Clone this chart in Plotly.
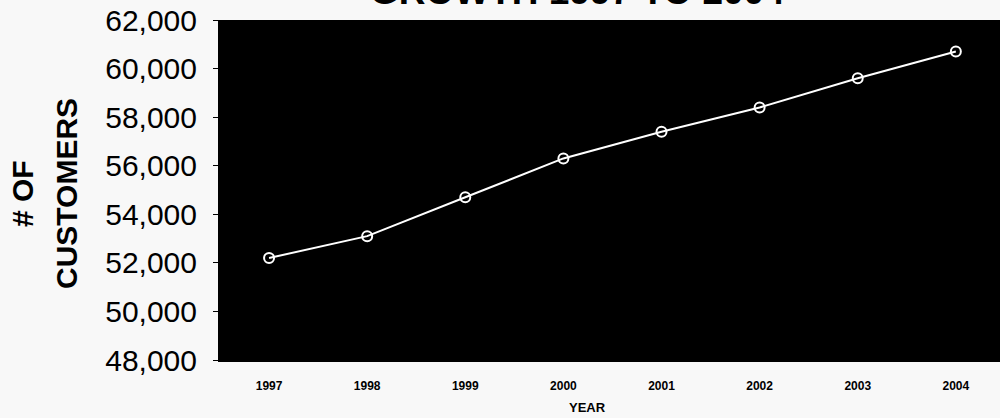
import plotly.graph_objects as go

years = ["1997", "1998", "1999", "2000", "2001", "2002", "2003", "2004"]
customers = [52200, 53100, 54700, 56300, 57400, 58400, 59600, 60700]
y_ticks = [48000, 50000, 52000, 54000, 56000, 58000, 60000, 62000]
y_tick_labels = ["48,000", "50,000", "52,000", "54,000", "56,000", "58,000", "60,000", "62,000"]

L, T, B = 220, 20, 360
W, H = 1000, 418
PH = B - T
PW = W - L

fig = go.Figure()
fig.add_trace(go.Scatter(
    x=years, y=customers, mode="lines+markers",
    line=dict(color="white", width=2),
    marker=dict(symbol="circle-open", size=10, color="white", line=dict(width=2, color="white")),
    showlegend=False, hoverinfo="skip",
))

def py(p):
    return (B - p) / PH

def px(p):
    return (p - L) / PW

fig.update_layout(
    width=W, height=H,
    margin=dict(l=L, r=0, t=T, b=H - B, pad=0),
    paper_bgcolor="#f8f8f8",
    plot_bgcolor="black",
    font=dict(family="Liberation Sans, Arial, sans-serif", color="black"),
    xaxis=dict(
        type="category", range=[-0.5, 7.45], showgrid=False, zeroline=False,
        showline=True, linecolor="black", linewidth=2, ticks="",
        tickfont=dict(family="Liberation Sans Narrow, Liberation Sans, Arial", size=12, weight="bold"),
        ticklabelstandoff=14,
    ),
    yaxis=dict(
        range=[48000, 62000], tickvals=y_ticks, ticktext=y_tick_labels,
        showgrid=False, zeroline=False, showline=True, linecolor="black", linewidth=2,
        ticks="outside", ticklen=5, tickcolor="black", tickwidth=1,
        tickfont=dict(size=30), ticklabelstandoff=10,
    ),
    annotations=[
        dict(text="<b>GROWTH 1997 TO 2004</b>", xref="paper", yref="paper",
             x=px(577), y=py(-9), xanchor="center", yanchor="middle",
             showarrow=False, font=dict(size=37, color="black")),
        dict(text="<b># OF</b>", xref="paper", yref="paper",
             x=px(22), y=py(194), xanchor="center", yanchor="middle", textangle=-90,
             showarrow=False, font=dict(size=30, color="black")),
        dict(text="<b>CUSTOMERS</b>", xref="paper", yref="paper",
             x=px(66), y=py(194), xanchor="center", yanchor="middle", textangle=-90,
             showarrow=False, font=dict(size=30, color="black")),
        dict(text="<b>YEAR</b>", xref="paper", yref="paper",
             x=px(587), y=py(407), xanchor="center", yanchor="middle",
             showarrow=False, font=dict(family="Liberation Sans Narrow, Liberation Sans, Arial", size=13, color="black")),
    ],
)

fig.write_html("out.html", config={"displayModeBar": False},
               post_script="document.body.style.margin='0';document.body.style.background='#f8f8f8';")
